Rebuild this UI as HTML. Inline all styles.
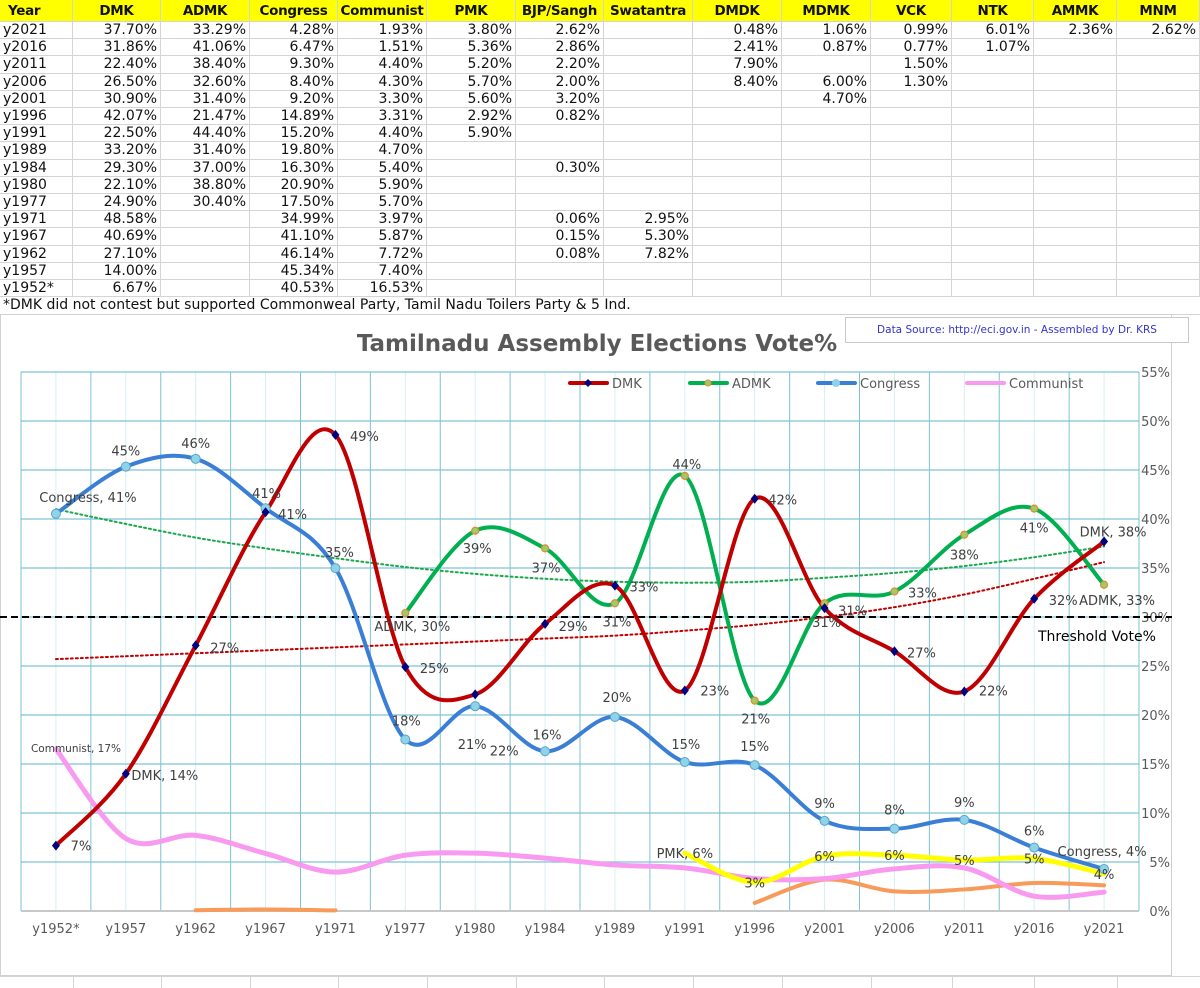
<!DOCTYPE html>
<html><head><meta charset="utf-8">
<style>
html,body{margin:0;padding:0;background:#fff;width:1200px;height:988px;overflow:hidden;}
body{position:relative;font-family:"DejaVu Sans","Liberation Sans",sans-serif;}
#sheet{position:absolute;left:0;top:0;width:1200px;height:988px;overflow:hidden;}
.cell{position:absolute;box-sizing:border-box;border-right:1px solid #d4d4d4;border-bottom:1px solid #d4d4d4;font-size:14px;color:#111;white-space:nowrap;line-height:17px;padding:0 3px;overflow:hidden;}
.hdr{background:#ffff00;font-weight:bold;text-align:center;line-height:22px;font-size:13.5px;letter-spacing:-0.3px;padding:0 1px;}
.num{text-align:right;}
#chart{position:absolute;left:0;top:314px;width:1172px;height:662px;background:#fff;border:1px solid #d0d0d0;box-sizing:border-box;}
#src{position:absolute;left:845px;top:317px;width:344px;height:26px;border:1px solid #c8c8c8;background:#fff;color:#3333cc;font-size:10.5px;text-align:center;line-height:24px;box-sizing:border-box;}
svg text{font-family:"DejaVu Sans","Liberation Sans",sans-serif;}
</style></head>
<body>
<div id="sheet"></div>
<div id="chart">
<svg id="svg" width="1172" height="662" viewBox="0 314 1172 662" style="position:absolute;left:-1px;top:-1px"></svg>
</div>
<div id="src">Data Source: http://eci.gov.in - Assembled by Dr. KRS</div>
<script>
// ---------- table ----------
const headers=["Year","DMK","ADMK","Congress","Communist","PMK","BJP/Sangh","Swatantra","DMDK","MDMK","VCK","NTK","AMMK","MNM"];
const colX=[0,73,161,250,338,427,516,604,693,782,871,952,1034,1117,1200];
const rows=[
["y2021","37.70%","33.29%","4.28%","1.93%","3.80%","2.62%","","0.48%","1.06%","0.99%","6.01%","2.36%","2.62%"],
["y2016","31.86%","41.06%","6.47%","1.51%","5.36%","2.86%","","2.41%","0.87%","0.77%","1.07%","",""],
["y2011","22.40%","38.40%","9.30%","4.40%","5.20%","2.20%","","7.90%","","1.50%","","",""],
["y2006","26.50%","32.60%","8.40%","4.30%","5.70%","2.00%","","8.40%","6.00%","1.30%","","",""],
["y2001","30.90%","31.40%","9.20%","3.30%","5.60%","3.20%","","","4.70%","","","",""],
["y1996","42.07%","21.47%","14.89%","3.31%","2.92%","0.82%","","","","","","",""],
["y1991","22.50%","44.40%","15.20%","4.40%","5.90%","","","","","","","",""],
["y1989","33.20%","31.40%","19.80%","4.70%","","","","","","","","",""],
["y1984","29.30%","37.00%","16.30%","5.40%","","0.30%","","","","","","",""],
["y1980","22.10%","38.80%","20.90%","5.90%","","","","","","","","",""],
["y1977","24.90%","30.40%","17.50%","5.70%","","","","","","","","",""],
["y1971","48.58%","","34.99%","3.97%","","0.06%","2.95%","","","","","",""],
["y1967","40.69%","","41.10%","5.87%","","0.15%","5.30%","","","","","",""],
["y1962","27.10%","","46.14%","7.72%","","0.08%","7.82%","","","","","",""],
["y1957","14.00%","","45.34%","7.40%","","","","","","","","",""],
["y1952*","6.67%","","40.53%","16.53%","","","","","","","","",""]
];
const sheet=document.getElementById('sheet');
const RH=17.2, HH=22;
headers.forEach((h,c)=>{
  const d=document.createElement('div');
  d.className='cell hdr';
  d.style.left=colX[c]+'px';d.style.top='0px';d.style.width=(colX[c+1]-colX[c])+'px';d.style.height=HH+'px';
  if(c===0){d.style.textAlign='left';d.style.paddingLeft='8px';}
  d.textContent=h;
  
  
  sheet.appendChild(d);
});
rows.forEach((r,ri)=>{
  r.forEach((v,c)=>{
    const d=document.createElement('div');
    d.className='cell'+(c>0?' num':'');
    d.style.left=colX[c]+'px';d.style.top=(HH+ri*RH)+'px';d.style.width=(colX[c+1]-colX[c])+'px';d.style.height=RH+'px';
    d.textContent=v;
    
    
    sheet.appendChild(d);
  });
});
const fn=document.createElement('div');
fn.className='cell';fn.style.left='0px';fn.style.top=(HH+16*RH)+'px';fn.style.width='1200px';fn.style.height='18px';fn.style.borderRight='none';
fn.textContent='*DMK did not contest but supported Commonweal Party, Tamil Nadu Toilers Party & 5 Ind.';


sheet.appendChild(fn);
[976].forEach(y=>{
  const rr=document.createElement('div');
  rr.style.cssText='position:absolute;left:0;width:1200px;height:1px;background:#d4d4d4;top:'+y+'px';
  
  
  sheet.appendChild(rr);
});
[73,161,250,338,427,516,604,693,782,871,952,1034,1117].forEach(x=>{
  const v=document.createElement('div');
  v.style.cssText='position:absolute;top:976px;height:12px;width:1px;background:#d4d4d4;left:'+x+'px';
  
  
  sheet.appendChild(v);
});

// ---------- chart data ----------
const categories=["y1952*","y1957","y1962","y1967","y1971","y1977","y1980","y1984","y1989","y1991","y1996","y2001","y2006","y2011","y2016","y2021"];
const dmk=[6.67,14,27.1,40.69,48.58,24.9,22.1,29.3,33.2,22.5,42.07,30.9,26.5,22.4,31.86,37.7];
const admk=[null,null,null,null,null,30.4,38.8,37,31.4,44.4,21.47,31.4,32.6,38.4,41.06,33.29];
const congress=[40.53,45.34,46.14,41.1,34.99,17.5,20.9,16.3,19.8,15.2,14.89,9.2,8.4,9.3,6.47,4.28];
const communist=[16.53,7.4,7.72,5.87,3.97,5.7,5.9,5.4,4.7,4.4,3.31,3.3,4.3,4.4,1.51,1.93];
const pmk=[null,null,null,null,null,null,null,null,null,5.9,2.92,5.6,5.7,5.2,5.36,3.8];
const bjp=[null,null,0.08,0.15,0.06,null,null,0.3,null,null,0.82,3.2,2.0,2.2,2.86,2.62];
const greenTrend=[41,39.5,38.1,37,36,35.1,34.4,33.9,33.6,33.5,33.6,34,34.5,35.2,36.1,37.2];
const redTrend=[25.7,26,26.3,26.6,26.9,27.2,27.5,27.8,28.1,28.6,29.2,30,31,32.3,33.9,35.6];
const threshold=30;
const yTicks=[0,5,10,15,20,25,30,35,40,45,50,55];
const dmkLabels=["7%","DMK, 14%","27%","41%","49%","25%","22%","29%","33%","23%","42%","31%","27%","22%","32%","DMK, 38%"];
const admkLabels=[null,null,null,null,null,"ADMK, 30%","39%","37%","31%","44%","21%","31%","33%","38%","41%","ADMK, 33%"];
const congressLabels=["Congress, 41%","45%","46%","41%","35%","18%","21%","16%","20%","15%","15%","9%","8%","9%","6%","Congress, 4%"];
const pmkLabels=[null,null,null,null,null,null,null,null,null,"PMK, 6%","3%","6%","6%","5%","5%","4%"];

// label offsets (styling, not data)
const dmkDx=[25,39,29,1,29,29,29,28,29,30,28,2,27,29,29,9], dmkDy=[0,1,2,-19,1,1,56,2,1,0,1,14,1,-1,1,-10];
const admkDx=[0,0,0,0,0,7,2,1,2,2,1,28,28,0,0,13], admkDy=[0,0,0,0,0,13,17,19,18,-12,18,7,1,20,19,15];
const congDx=[32,0,0,27,4,1,-3,2,2,1,0,0,0,0,0,-2], congDy=[-17,-16,-16,6,-16,-19,38,-17,-20,-18,-19,-18,-19,-18,-17,-18];

// ---------- axes ----------
const L=21,R=1139,T=372,B=911;
const step=(R-L)/categories.length;
const xs=i=>L+step*(i+0.5);
const ys=v=>B-(B-T)*v/55;
const NS='http://www.w3.org/2000/svg';
const svg=document.getElementById('svg');
function el(tag,attrs,parent){const e=document.createElementNS(NS,tag);for(const k in attrs)e.setAttribute(k,attrs[k]);(parent||svg).appendChild(e);return e;}

let t=el('text',{x:597,y:351,'text-anchor':'middle','font-size':23,'font-weight':'bold',fill:'#595959'});
t.textContent='Tamilnadu Assembly Elections Vote%';



for(let i=0;i<=categories.length*2;i++){
  const x=L+step*i/2;
  const g=el('line',{x1:x,x2:x,y1:T,y2:B,stroke:i%2?'#d6eef3':'#7cc3d3','stroke-width':1});
  
  
}
yTicks.forEach(v=>{
  const g=el('line',{x1:L,x2:R,y1:ys(v),y2:ys(v),stroke:'#7cc3d3','stroke-width':1.3});
  
  
  const tx=el('text',{x:1170,y:ys(v)+5,'text-anchor':'end','font-size':13,fill:'#595959'});
  tx.textContent=v+'%';
  
  
});
el('line',{x1:L,x2:R,y1:B,y2:B,stroke:'#c8c8c8','stroke-width':2});
categories.forEach((c,i)=>{
  const tx=el('text',{x:xs(i),y:B+22,'text-anchor':'middle','font-size':13,fill:'#595959'});
  tx.textContent=c;
  
  
});

function segments(arr){const segs=[];let cur=[];arr.forEach((v,i)=>{if(v==null){if(cur.length)segs.push(cur);cur=[];}else cur.push([xs(i),ys(v)]);});if(cur.length)segs.push(cur);return segs;}
function smooth(p){
  if(p.length===1)return 'M'+p[0][0]+','+p[0][1];
  let d='M'+p[0][0]+','+p[0][1];
  for(let i=0;i<p.length-1;i++){
    const p0=p[i-1]||p[i],p1=p[i],p2=p[i+1],p3=p[i+2]||p2;
    const c1=[p1[0]+(p2[0]-p0[0])/6,p1[1]+(p2[1]-p0[1])/6];
    const c2=[p2[0]-(p3[0]-p1[0])/6,p2[1]-(p3[1]-p1[1])/6];
    d+=' C'+c1[0]+','+c1[1]+' '+c2[0]+','+c2[1]+' '+p2[0]+','+p2[1];
  }
  return d;
}
function series(arr,color,width,name,dash){
  segments(arr).forEach(s=>{
    if(s.length<2)return;
    const attrs={d:smooth(s),fill:'none',stroke:color,'stroke-width':width,'stroke-linecap':'round'};
    if(dash)attrs['stroke-dasharray']=dash;
    const p=el('path',attrs);
    
    
  });
}
const th=el('line',{x1:0,x2:1172,y1:ys(threshold),y2:ys(threshold),stroke:'#000','stroke-width':2,'stroke-dasharray':'7,4'});


const thl=el('text',{x:1038,y:ys(threshold)+24,'font-size':14,fill:'#000'});
thl.textContent='Threshold Vote%';



series(bjp,'#f79a5a',4,'bjp-line');
series(communist,'#f79af0',5,'communist-line');
series(pmk,'#ffff00',5,'pmk-line');
series(greenTrend,'#1aa84a',2,'admk-trendline','2,3');
series(redTrend,'#c00000',2,'dmk-trendline','2,3');
series(congress,'#3a7fd5',4,'congress-line');
series(admk,'#00b050',4,'admk-line');
series(dmk,'#c00000',4,'dmk-line');

congress.forEach((v,i)=>{const m=el('circle',{cx:xs(i),cy:ys(v),r:4.5,fill:'#8fd3ea',stroke:'#5aa5c8','stroke-width':1});

});
admk.forEach((v,i)=>{if(v==null)return;const m=el('circle',{cx:xs(i),cy:ys(v),r:3.5,fill:'#9acd6a',stroke:'#e08a30','stroke-width':1.2});

});
dmk.forEach((v,i)=>{const x=xs(i),y=ys(v);const m=el('polygon',{points:`${x},${y-5} ${x+4},${y} ${x},${y+5} ${x-4},${y}`,fill:'#000080'});

});

function lab(txt,x,y,name,size){const e=el('text',{x:x,y:y+5,'text-anchor':'middle','font-size':size||13,fill:'#404040'});e.textContent=txt;

}
dmk.forEach((v,i)=>lab(dmkLabels[i],xs(i)+dmkDx[i],ys(v)+dmkDy[i],'dmk-data-label'));
admk.forEach((v,i)=>{if(v!=null)lab(admkLabels[i],xs(i)+admkDx[i],ys(v)+admkDy[i],'admk-data-label');});
congress.forEach((v,i)=>lab(congressLabels[i],xs(i)+congDx[i],ys(v)+congDy[i],'congress-data-label'));
pmk.forEach((v,i)=>{if(v!=null)lab(pmkLabels[i],xs(i),ys(v),'pmk-data-label');});
lab('Communist, 17%',76,ys(communist[0])-2,'communist-data-label',10.5);

const legend=[['DMK','#c00000','dia',570],['ADMK','#00b050','circ',690],['Congress','#3a7fd5','ball',818],['Communist','#f79af0','none',967]];
legend.forEach(([n,c,m,x])=>{
  const y=383;
  const l=el('line',{x1:x,x2:x+37,y1:y,y2:y,stroke:c,'stroke-width':4,'stroke-linecap':'round'});
  
  
  if(m==='dia')el('polygon',{points:`${x+18},${y-4} ${x+22},${y} ${x+18},${y+4} ${x+14},${y}`,fill:'#000080'});
  if(m==='circ')el('circle',{cx:x+18,cy:y,r:3,fill:'#9acd6a',stroke:'#e08a30'});
  if(m==='ball')el('circle',{cx:x+18,cy:y,r:4,fill:'#8fd3ea'});
  const tx=el('text',{x:x+42,y:y+5,'font-size':13,fill:'#595959'});
  tx.textContent=n;
  
  
});
</script>
</body></html>
